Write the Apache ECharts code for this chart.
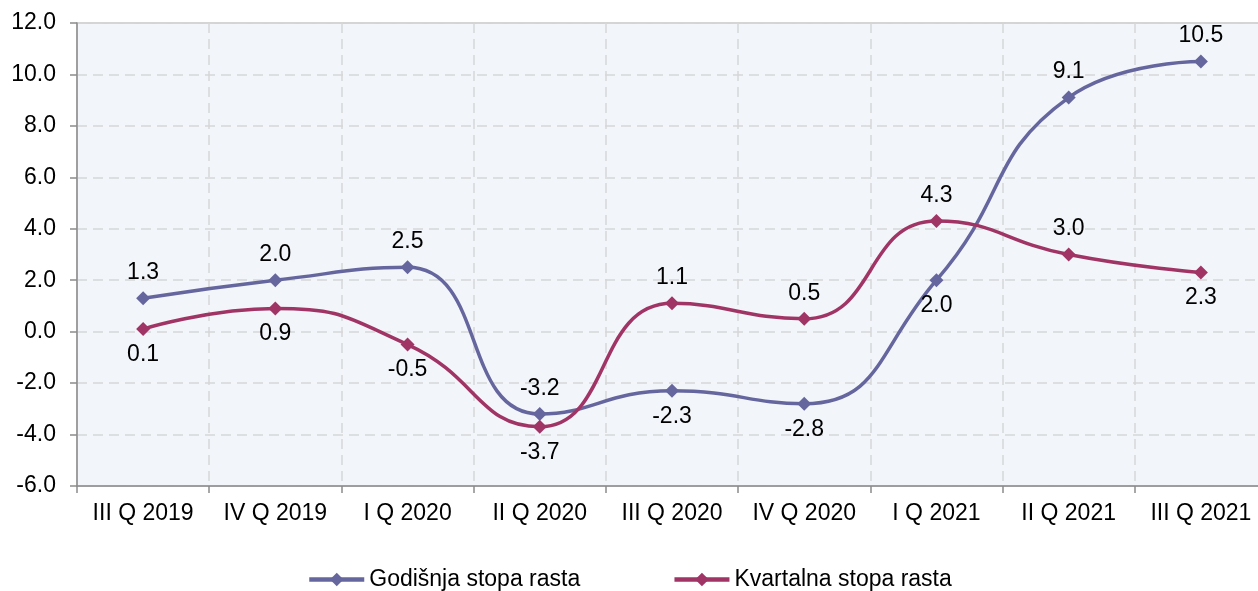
<!DOCTYPE html>
<html>
<head>
<meta charset="utf-8">
<script src="https://cdn.jsdelivr.net/npm/echarts@6/dist/echarts.min.js"></script>
<style>html,body{margin:0;padding:0;background:#fff;overflow:hidden;width:1258px;height:591px}#c{width:1267px;height:591px}</style>
</head>
<body>
<div id="c"></div>
<script>
const categories = ['III Q 2019','IV Q 2019','I Q 2020','II Q 2020','III Q 2020','IV Q 2020','I Q 2021','II Q 2021','III Q 2021'];
const godisnja = [1.3, 2.0, 2.5, -3.2, -2.3, -2.8, 2.0, 9.1, 10.5];
const kvartalna = [0.1, 0.9, -0.5, -3.7, 1.1, 0.5, 4.3, 3.0, 2.3];
const godisnjaLabelPos = ['top','top','top','top','bottom','bottom','bottom','top','top'];
const kvartalnaLabelPos = ['bottom','bottom','bottom','bottom','top','top','top','top','bottom'];
const seriesNames = ['Godišnja stopa rasta', 'Kvartalna stopa rasta'];

const FONT = 'Liberation Sans, Arial, sans-serif';
const FS = 23;
function mk(vals, pos) {
  return vals.map((v, i) => ({ value: v, label: { position: pos[i] } }));
}
const chart = echarts.init(document.getElementById('c'));
chart.setOption({
  animation: false,
  textStyle: { fontFamily: FONT },
  grid: { left: 77, top: 23, right: 0, bottom: 105, show: true, backgroundColor: '#f2f5fa', borderColor: '#c8c8c8', borderWidth: 1.5 },
  legend: {
    data: seriesNames,
    left: 302, top: 563,
    itemWidth: 55, itemHeight: 17, itemGap: 92,
    lineStyle: { width: 4.5 },
    textStyle: { fontSize: FS, color: '#000', fontFamily: FONT }
  },
  xAxis: {
    type: 'category', data: categories, boundaryGap: true,
    axisLine: { onZero: false, lineStyle: { color: '#8c8c8c', width: 1.5 } },
    axisTick: { show: true, interval: 0, length: 7, lineStyle: { color: '#8c8c8c', width: 1.5 } },
    axisLabel: { interval: 0, hideOverlap: false, fontSize: FS, color: '#000', margin: 16, fontFamily: FONT },
    splitLine: { show: true, interval: 0, lineStyle: { color: '#d6d6d6', width: 1.5, type: [10, 6] } }
  },
  yAxis: {
    type: 'value', min: -6, max: 12, interval: 2,
    axisLine: { show: true, lineStyle: { color: '#8c8c8c', width: 1.5 } },
    axisTick: { show: true, length: 7, lineStyle: { color: '#8c8c8c', width: 1.5 } },
    axisLabel: { fontSize: FS, color: '#000', margin: 21, fontFamily: FONT, formatter: v => v.toFixed(1) },
    splitLine: { show: true, lineStyle: { color: '#d6d6d6', width: 1.5, type: [10, 6] } }
  },
  series: [
    {
      name: seriesNames[0], type: 'line', smooth: 0.5,
      data: mk(godisnja, godisnjaLabelPos),
      symbol: 'diamond', symbolSize: 14,
      lineStyle: { color: '#66669e', width: 3.5 },
      itemStyle: { color: '#66669e' },
      label: { show: true, fontSize: FS, color: '#000', distance: 7, fontFamily: FONT, formatter: p => p.value.toFixed(1) }
    },
    {
      name: seriesNames[1], type: 'line', smooth: 0.5,
      data: mk(kvartalna, kvartalnaLabelPos),
      symbol: 'diamond', symbolSize: 14,
      lineStyle: { color: '#a03565', width: 3.5 },
      itemStyle: { color: '#a03565' },
      label: { show: true, fontSize: FS, color: '#000', distance: 7, fontFamily: FONT, formatter: p => p.value.toFixed(1) }
    }
  ]
});
</script>
</body>
</html>
